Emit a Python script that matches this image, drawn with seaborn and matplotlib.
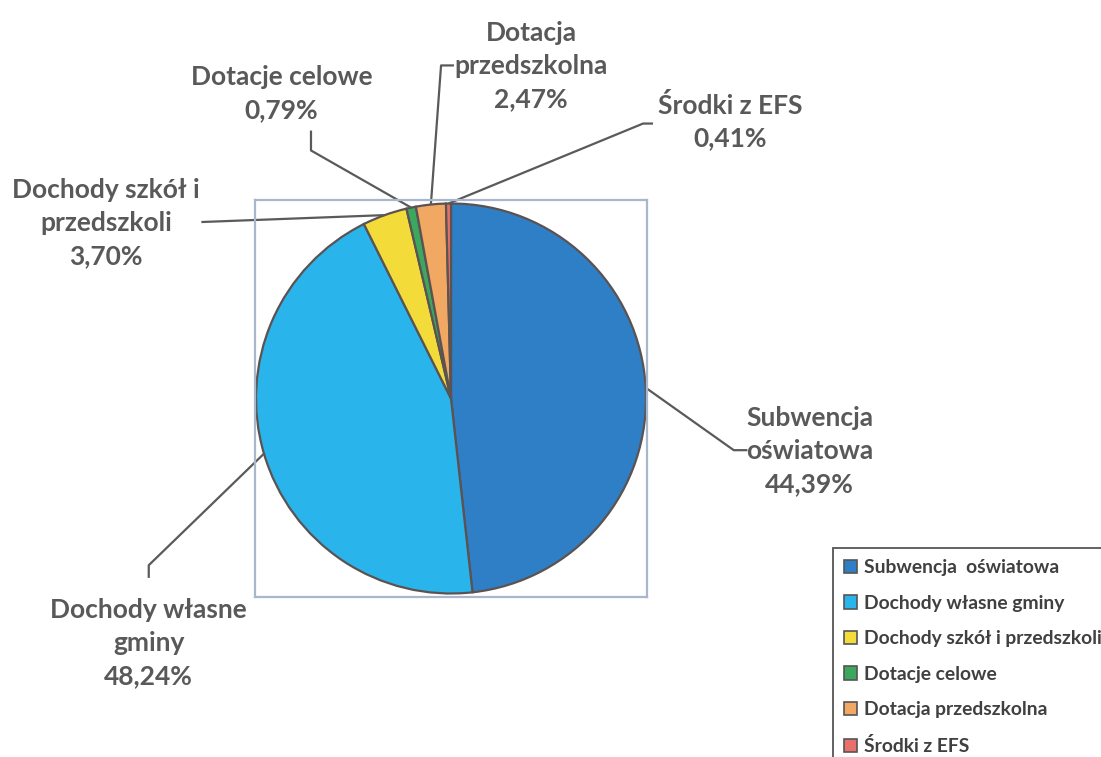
import numpy as np
import matplotlib
matplotlib.use("Agg")
import matplotlib.pyplot as plt
import seaborn as sns

# ---- data ----
categories = ["Subwencja  oświatowa", "Dochody własne gminy", "Dochody szkół i przedszkoli",
              "Dotacje celowe", "Dotacja przedszkolna", "Środki z EFS"]
shares = [48.24, 44.39, 3.70, 0.79, 2.47, 0.41]   # slice sizes as drawn
label_names = ["Subwencja\noświatowa", "Dochody własne\ngminy", "Dochody szkół i\nprzedszkoli",
               "Dotacje celowe", "Dotacja\nprzedszkolna", "Środki z EFS"]
label_pcts = ["44,39%", "48,24%", "3,70%", "0,79%", "2,47%", "0,41%"]   # as printed on the chart
colors = ["#2f7fc6", "#2ab4ec", "#f3dc3a", "#3ba85e", "#f0a862", "#e8716b"]

# label layout (data units, pie radius = 1): text centre, elbow, line end
label_pos = [(1.84, -0.27), (-1.55, -1.255), (-1.77, 0.90), (-0.87, 1.565), (0.41, 1.705), (1.43, 1.42)]
elbows = [(1.45, -0.265), (-1.55, -0.855), None, (-0.718, 1.272), (-0.051, 1.708), (0.985, 1.41)]
ends = [(1.52, -0.265), (-1.55, -0.92), (-1.28, 0.905), (-0.718, 1.374), (0.015, 1.708), (1.036, 1.41)]

sns.set_theme(style="white")
plt.rcParams["font.family"] = ["Lato", "DejaVu Sans"]

fig = plt.figure(figsize=(11.01, 7.57), dpi=100)
fig.patch.set_facecolor("white")
W, H = 1101, 757
ax = fig.add_axes([255 / W, 1 - 597 / H, 392 / W, 397 / H])

wedges, _ = ax.pie(shares, colors=colors, startangle=90, counterclock=False,
                   radius=1.0, wedgeprops=dict(edgecolor="#5b5252", linewidth=1.6))
ax.set_aspect("auto")
ax.set_xlim(-196 / 195, 196 / 195)
ax.set_ylim(-198.5 / 195, 198.5 / 195)
ax.set_frame_on(True)
for s in ax.spines.values():
    s.set_visible(True)
    s.set_color("#a9b6cb")
    s.set_linewidth(1.6)
ax.set_xticks([])
ax.set_yticks([])

txt_col = "#595959"
for w, name, pct, pos, el, en in zip(wedges, label_names, label_pcts, label_pos, elbows, ends):
    ang = np.deg2rad((w.theta1 + w.theta2) / 2)
    ax_pt = (np.cos(ang), np.sin(ang))
    pts = [ax_pt] + ([el] if el is not None else []) + [en]
    xs, ys = zip(*pts)
    ax.plot(xs, ys, color="#5a5a5a", lw=1.6, clip_on=False, solid_capstyle="butt")
    ax.text(pos[0], pos[1], name + "\n" + pct, ha="center", va="center", fontsize=19,
            fontweight="bold", color=txt_col, linespacing=1.45, clip_on=False)

leg = fig.legend(wedges, categories, loc="upper left", bbox_to_anchor=(833 / W, 1 - 548 / H),
                 fontsize=13.9, frameon=True, fancybox=False, framealpha=1,
                 edgecolor="#555555", handlelength=0.67, handleheight=0.67,
                 handletextpad=0.35, labelspacing=0.96, borderpad=0.58, borderaxespad=0)
leg.get_frame().set_linewidth(1.3)
for t in leg.get_texts():
    t.set_color("#404040")
    t.set_fontweight("bold")
for h in leg.legend_handles:
    h.set_edgecolor("#555555")
    h.set_linewidth(1.2)

fig.savefig("out.png", dpi=100)
